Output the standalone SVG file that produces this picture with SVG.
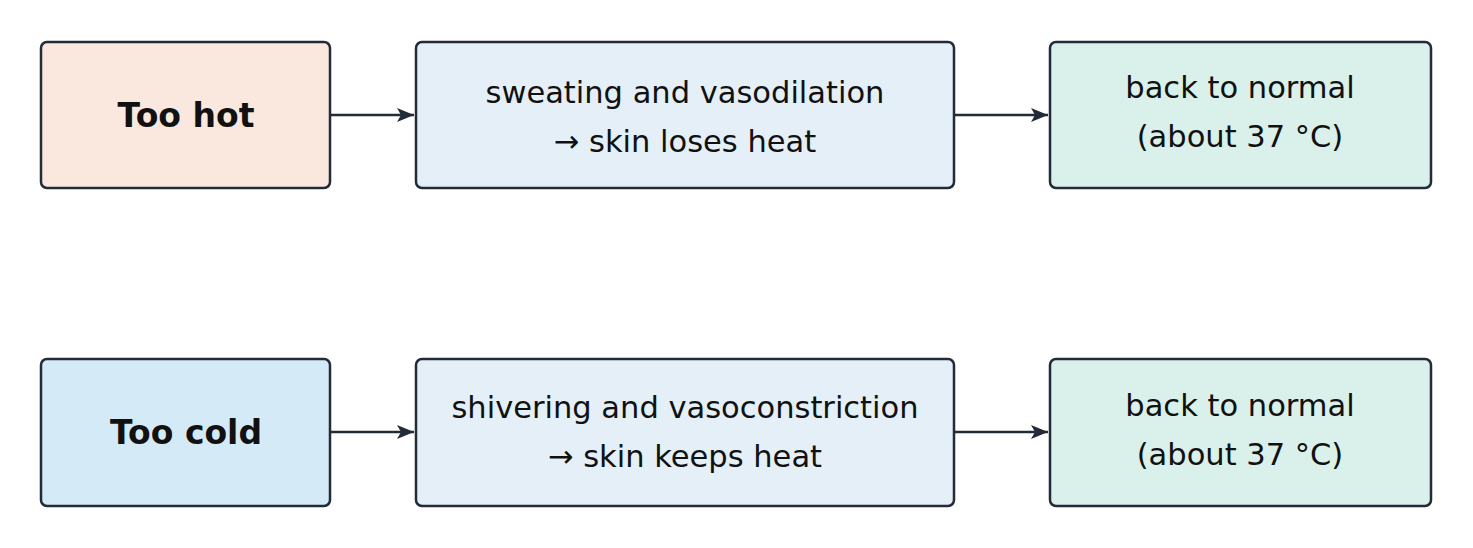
<svg xmlns="http://www.w3.org/2000/svg" width="1473" height="548" viewBox="0 0 1473 548">
<style>
.b{stroke:#232b38;stroke-width:2.5}
text{font-family:"DejaVu Sans",sans-serif;font-size:30.5px;fill:#111;text-anchor:middle}
.t{font-weight:bold;font-size:33px}
.c{stroke:#232b38;stroke-width:2.5;fill:none;marker-end:url(#a)}
</style>
<defs><marker id="a" markerWidth="18" markerHeight="18" refX="17" refY="9" orient="auto" markerUnits="userSpaceOnUse"><path d="M0,2 L17,9 L0,16 L4,9 Z" fill="#232b38"/></marker></defs>
<rect width="1473" height="548" fill="#fff"/>
<g id="hot"><rect class="b" x="41" y="42" width="289" height="146" rx="6" fill="#fae8de"/><text class="t" x="186" y="127">Too hot</text></g>
<g id="hotresp"><rect class="b" x="416" y="42" width="538" height="146" rx="6" fill="#e4eff7"/><text x="685" y="103">sweating and vasodilation</text><text x="685" y="152">→ skin loses heat</text></g>
<g id="hotnorm"><rect class="b" x="1050" y="42" width="381" height="146" rx="6" fill="#daf0ea"/><text x="1240" y="98">back to normal</text><text x="1240" y="147">(about 37 °C)</text></g>
<g id="cold"><rect class="b" x="41" y="359" width="289" height="147" rx="6" fill="#d5eaf7"/><text class="t" x="186" y="444">Too cold</text></g>
<g id="coldresp"><rect class="b" x="416" y="359" width="538" height="147" rx="6" fill="#e4eff7"/><text x="685" y="418">shivering and vasoconstriction</text><text x="685" y="467">→ skin keeps heat</text></g>
<g id="coldnorm"><rect class="b" x="1050" y="359" width="381" height="147" rx="6" fill="#daf0ea"/><text x="1240" y="416">back to normal</text><text x="1240" y="465">(about 37 °C)</text></g>
<g id="connectors">
<line class="c" x1="330" y1="115" x2="414" y2="115"/>
<line class="c" x1="954" y1="115" x2="1048" y2="115"/>
<line class="c" x1="330" y1="432" x2="414" y2="432"/>
<line class="c" x1="954" y1="432" x2="1048" y2="432"/>
</g>
</svg>
